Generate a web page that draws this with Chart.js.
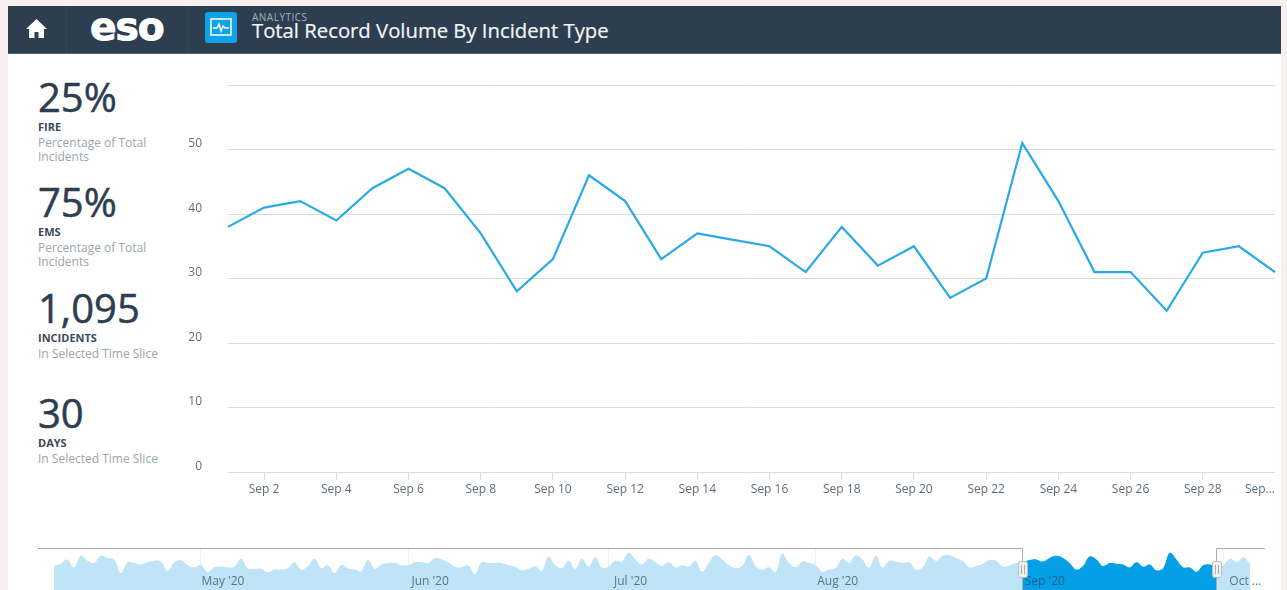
<!DOCTYPE html>
<html>
<head>
<meta charset="utf-8">
<title>Total Record Volume By Incident Type</title>
<script src="https://cdn.jsdelivr.net/npm/chart.js@4"></script>
<style>
html, body { margin: 0; padding: 0; width: 1287px; height: 590px; overflow: hidden; background: #f8eff1; font-family: "Open Sans", sans-serif; }
#panel { position: absolute; left: 8px; top: 6px; width: 1273px; height: 584px; background: #fff; }
#header { position: absolute; left: 0; top: 0; width: 1273px; height: 48px; background: #2c3e50; border-bottom: 1px solid #56687a; box-sizing: border-box; }
.sep { position: absolute; top: 0; width: 1px; height: 47px; background: #334658; }
#home { position: absolute; left: 17px; top: 12px; }
#logo { position: absolute; left: 82px; top: -1px; font: bold 38px "DejaVu Sans", sans-serif; color: #fff; letter-spacing: -1px; -webkit-text-stroke: 1px #fff; transform: scaleX(1.03); transform-origin: left; }
#icon { position: absolute; left: 197px; top: 6px; width: 32px; height: 31px; border-radius: 3px; background: #0ea2e8; }
#kicker { position: absolute; left: 244px; top: 5px; font-size: 10px; line-height: 12px; color: #a3b1bd; letter-spacing: .5px; }
#title { position: absolute; left: 244px; top: 11px; font-size: 20.3px; line-height: 27px; color: #f4f6f7; white-space: nowrap; -webkit-text-stroke: .2px #f4f6f7; }
.stat { position: absolute; left: 38px; width: 135px; color: #2c3e50; }
.stat b { display: block; font-weight: 400; font-size: 40px; line-height: 44px; -webkit-text-stroke: .5px #2c3e50; }
.stat strong { display: block; font-size: 11px; line-height: 14px; margin-top: 1px; color: #3a4a5a; }
.stat span { display: block; font-size: 12px; line-height: 14px; color: #9aa5ad; margin-top: 2px; }
canvas { position: absolute; }
</style>
</head>
<body>
<div id="panel">
  <div id="header">
    <div class="sep" style="left:58px"></div>
    <div class="sep" style="left:179px"></div>
    <svg id="home" width="23" height="21" viewBox="0 0 23 21"><path fill="#fff" d="M11.5 1 1 11h3v9h5.5v-6h4v6H19v-9h3z"/></svg>
    <div id="logo">eso</div>
    <div id="icon"><svg width="32" height="31" viewBox="0 0 32 31"><rect x="6" y="7" width="20" height="16" fill="none" stroke="#fff" stroke-width="1.5"/><path fill="none" stroke="#fff" stroke-width="1.5" d="M8 16h4l2-4 2 7 2-5 2 2h4"/></svg></div>
    <div id="kicker">ANALYTICS</div>
    <div id="title">Total Record Volume By Incident Type</div>
  </div>
</div>
<div id="stats"></div>
<canvas id="myChart" width="1097" height="437" style="left:180px;top:75px"></canvas>
<canvas id="navChart" width="1287" height="43" style="left:0;top:547px"></canvas>
<script>
// sidebar numbers
const statValues = ["25%", "75%", "1,095", "30"];
const statNames = ["FIRE", "EMS", "INCIDENTS", "DAYS"];
const statNotes = ["Percentage of Total Incidents", "Percentage of Total Incidents", "In Selected Time Slice", "In Selected Time Slice"];

// main chart, September daily counts
const sepValues = [38, 41, 42, 39, 44, 47, 44, 37, 28, 33, 46, 42, 33, 37, 36, 35, 31, 38, 32, 35, 27, 30, 51, 42, 31, 31, 25, 34, 35, 31];
const sepDays = ["Sep 1", "Sep 2", "Sep 3", "Sep 4", "Sep 5", "Sep 6", "Sep 7", "Sep 8", "Sep 9", "Sep 10", "Sep 11", "Sep 12", "Sep 13", "Sep 14", "Sep 15", "Sep 16", "Sep 17", "Sep 18", "Sep 19", "Sep 20", "Sep 21", "Sep 22", "Sep 23", "Sep 24", "Sep 25", "Sep 26", "Sep 27", "Sep 28", "Sep 29", "Sep..."];
const yTicks = [0, 10, 20, 30, 40, 50];

// navigator strip, rest of the year
const aprValues = [33, 36, 42, 31, 47, 40, 37, 47, 44, 42, 23, 38, 37, 35, 38, 40, 39, 26, 38, 41, 34, 31];
const mayValues = [34, 25, 31, 32, 31, 32, 43, 30, 29, 29, 24, 28, 28, 30, 38, 28, 33, 43, 30, 34, 23, 34, 30, 28, 26, 41, 29, 35, 37, 37, 34];
const junValues = [34, 38, 38, 37, 44, 42, 38, 32, 31, 34, 22, 38, 37, 37, 37, 34, 32, 27, 29, 33, 26, 46, 34, 30, 40, 29, 43, 32, 45, 31];
const julValues = [32, 40, 39, 51, 42, 35, 43, 38, 33, 38, 31, 34, 32, 40, 25, 37, 48, 42, 34, 30, 33, 48, 33, 28, 31, 25, 50, 37, 31, 39, 37];
const augValues = [34, 25, 28, 30, 43, 37, 48, 42, 31, 47, 31, 40, 39, 37, 38, 28, 31, 46, 40, 47, 48, 44, 40, 31, 33, 36, 41, 40, 32, 34, 37];
const octValues = [34, 43, 38, 45, 36];
const monthNames = ["May '20", "Jun '20", "Jul '20", "Aug '20", "Sep '20", "Oct ..."];

const statsBox = document.getElementById('stats');
statValues.forEach((value, index) => {
    const div = document.createElement('div');
    div.className = 'stat';
    div.style.top = (75 + index * 105.3) + 'px';
    div.innerHTML = `<b>${value}</b><strong>${statNames[index]}</strong><span>${statNotes[index]}</span>`;
    statsBox.appendChild(div);
});

new Chart(document.getElementById('myChart'), {
    type: 'line',
    data: {
        labels: sepDays,
        datasets: [{
            data: sepValues,
            borderColor: '#2aa9e8',
            borderWidth: 2.2,
            pointRadius: 0,
            tension: 0
        }]
    },
    options: {
        responsive: false,
        animation: false,
        layout: { padding: { top: 10 } },
        plugins: { legend: { display: false }, tooltip: { enabled: false } },
        scales: {
            y: {
                min: 0,
                max: 60,
                // the wide tick padding would also push the plot down, so drop it
                afterFit: s => { s.width = 48; s.paddingTop = 0; s.paddingBottom = 0; },
                border: { display: false },
                grid: { color: '#d9dcde', lineWidth: 1, drawTicks: false },
                ticks: {
                    stepSize: 10,
                    padding: 26,
                    labelOffset: -5.5,
                    color: '#5f6d79',
                    font: { family: 'Open Sans', size: 12 },
                    callback: v => yTicks.includes(v) ? v : ''
                }
            },
            x: {
                afterFit: s => { s.height = 40; },
                border: { display: false },
                grid: {
                    drawOnChartArea: false,
                    tickLength: 8,
                    tickColor: c => (c.index % 2 === 1 && c.index < 29) ? '#d3dfea' : 'transparent'
                },
                ticks: {
                    autoSkip: false,
                    maxRotation: 0,
                    align: 'inner',
                    padding: 2,
                    color: '#5f6d79',
                    font: { family: 'Open Sans', size: 12 },
                    callback: function (v, i) { return i % 2 === 1 ? sepDays[i] : ''; }
                }
            }
        }
    }
});

// navigator
const navValues = [...aprValues, ...mayValues, ...junValues, ...julValues, ...augValues, ...sepValues, ...octValues];
const mayStart = aprValues.length;
const monthStarts = [
    mayStart,
    mayStart + mayValues.length,
    mayStart + mayValues.length + junValues.length,
    mayStart + mayValues.length + junValues.length + julValues.length,
    mayStart + mayValues.length + junValues.length + julValues.length + augValues.length,
    mayStart + mayValues.length + junValues.length + julValues.length + augValues.length + sepValues.length
];
const selStart = monthStarts[4];
const selEnd = selStart + sepValues.length - 1;
const navSelected = navValues.map((v, i) => (i >= selStart && i <= selEnd) ? v : null);

const sliderFrame = {
    id: 'sliderFrame',
    afterDraw(chart) {
        const c = chart.ctx;
        const h = chart.height;
        const a = Math.round(chart.scales.x.getPixelForValue(selStart)) - 0.5;
        const b = Math.round(chart.scales.x.getPixelForValue(selEnd)) - 0.5;
        c.save();
        c.strokeStyle = '#a9abac';
        c.lineWidth = 1;
        c.beginPath();
        c.moveTo(38, 1.5); c.lineTo(a, 1.5); c.lineTo(a, h);
        c.moveTo(1265, 1.5); c.lineTo(b, 1.5); c.lineTo(b, h);
        c.stroke();
        [a, b].forEach(x => {
            c.fillStyle = '#eef1f2';
            c.strokeStyle = '#b9bdbf';
            c.beginPath();
            c.roundRect(x - 4, 14.5, 9, 16, 2);
            c.fill();
            c.stroke();
            c.fillStyle = '#a9adb0';
            c.fillRect(x - 1.5, 18, 1, 9);
            c.fillRect(x + 1.5, 18, 1, 9);
        });
        c.restore();
    }
};

new Chart(document.getElementById('navChart'), {
    type: 'line',
    data: {
        labels: navValues.map((v, i) => {
            const m = monthStarts.indexOf(i);
            return m >= 0 ? monthNames[m] : '';
        }),
        datasets: [
            { data: navSelected, order: 1, fill: 'origin', backgroundColor: '#059fe6', borderWidth: 0, pointRadius: 0, tension: 0.4 },
            { data: navValues, order: 2, fill: 'origin', backgroundColor: '#bfe4f7', borderWidth: 0, pointRadius: 0, tension: 0.4 }
        ]
    },
    plugins: [sliderFrame],
    options: {
        responsive: false,
        animation: false,
        layout: { padding: { left: 54, right: 37 } },
        plugins: { legend: { display: false }, tooltip: { enabled: false } },
        scales: {
            y: { display: false, min: 0, max: 59 },
            x: {
                afterFit: s => { s.height = 0; },
                border: { display: false },
                grid: {
                    drawTicks: false,
                    color: c => monthStarts.includes(c.index) ? '#eef1f3' : 'transparent'
                },
                ticks: {
                    autoSkip: false,
                    maxRotation: 0,
                    // mirror switches off the clip to the (zero height) axis box
                    mirror: true,
                    z: 1,
                    padding: 1,
                    labelOffset: 22,
                    color: c => c.index === selStart ? '#14628f' : '#5f7282',
                    font: { family: 'Open Sans', size: 12 }
                }
            }
        }
    }
});
</script>
</body>
</html>
